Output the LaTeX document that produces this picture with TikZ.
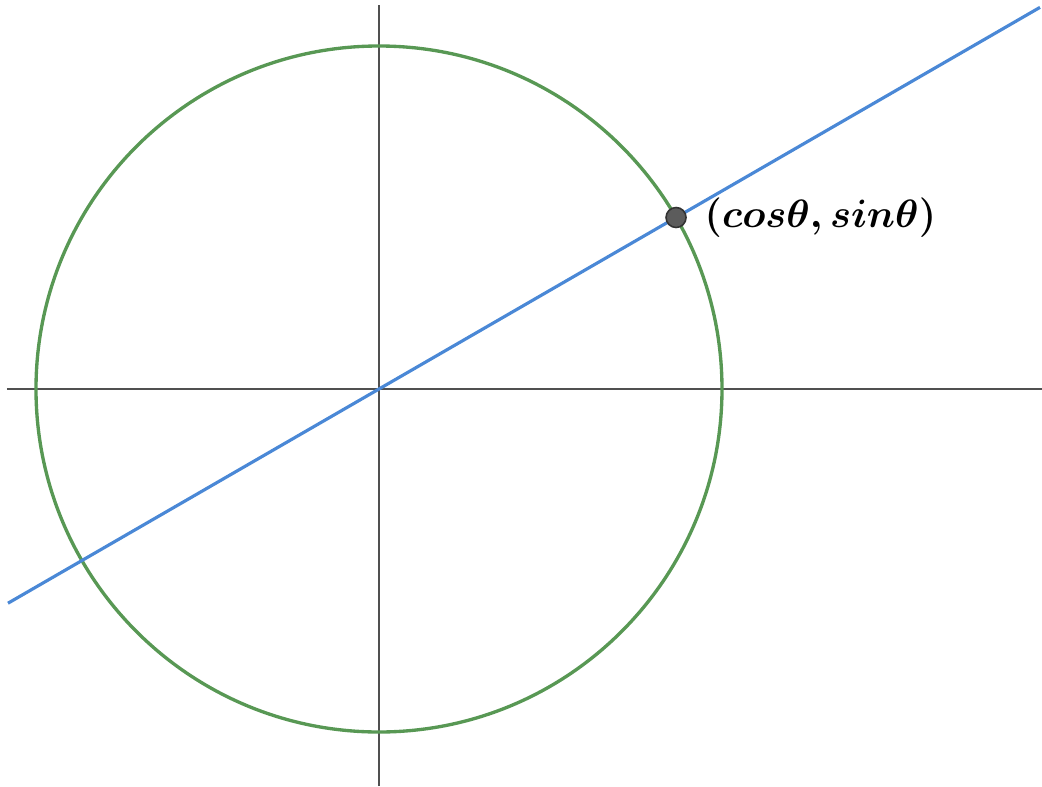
\documentclass[tikz,border=0pt]{standalone}
\usepackage{amsmath}
\usepackage{tikz}
\usetikzlibrary{positioning}

\definecolor{axisgray}{RGB}{80,80,80}
\definecolor{circgreen}{RGB}{88,152,84}
\definecolor{lineblue}{RGB}{74,136,214}
\definecolor{dotgray}{RGB}{92,92,92}

\begin{document}
\begin{tikzpicture}[
  axis/.style={draw=axisgray,line width=0.9pt},
  unitcirc/.style={draw=circgreen,line width=1.9pt},
  ray/.style={draw=lineblue,line width=1.8pt},
  dot/.style={circle,fill=dotgray,draw=black!80,line width=0.9pt,minimum size=0.4cm,inner sep=0pt},
  lbl/.style={font=\huge\boldmath,inner sep=0pt,scale=1.085,transform shape}
]
\useasboundingbox (-7.58,-7.94) rectangle (13.26,7.78);
\coordinate (O) at (0,0);
% axes
\coordinate (xl) at (-7.44,0);
\coordinate (xr) at (13.26,0);
\coordinate (yt) at (0,7.68);
\coordinate (yb) at (0,-7.94);
\draw[axis] (xl) -- (xr);
\draw[axis] (yb) -- (yt);
% unit circle and line at 30 degrees
\draw[unitcirc] (O) circle (6.86);
\coordinate (la) at (-7.42,-4.284);
\coordinate (lb) at (13.22,7.633);
\draw[ray] (la) -- (lb);
\node[dot] (P) at (30:6.86) {};
\node[lbl,right=3.5mm of P] (Plbl) {$(cos\theta, sin\theta)$};
\end{tikzpicture}
\end{document}
